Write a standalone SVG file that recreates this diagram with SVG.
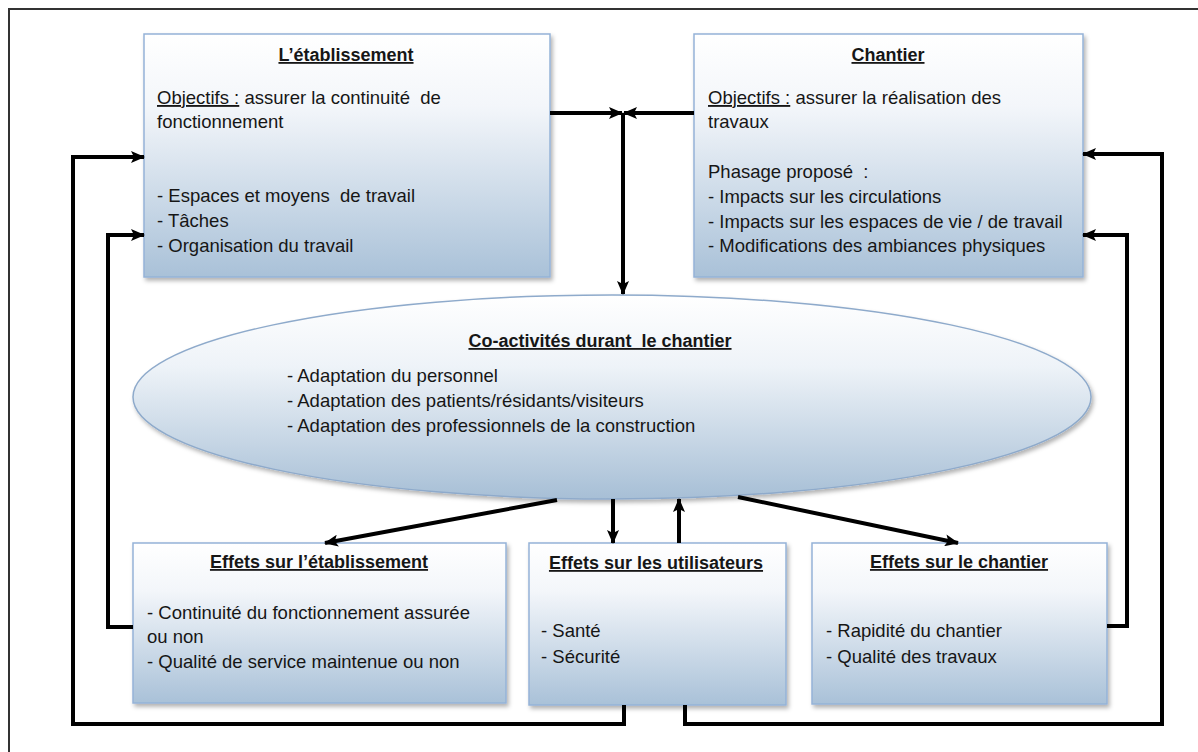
<svg xmlns="http://www.w3.org/2000/svg" width="1198" height="752" viewBox="0 0 1198 752">
<defs>
<linearGradient id="gBox" x1="0" y1="0" x2="0" y2="1">
<stop offset="0" stop-color="#ffffff"/>
<stop offset="0.3" stop-color="#f3f6fa"/>
<stop offset="1" stop-color="#a9c1d8"/>
</linearGradient>
<linearGradient id="gEll" x1="0" y1="0" x2="0" y2="1">
<stop offset="0" stop-color="#ffffff"/>
<stop offset="0.35" stop-color="#eef3f8"/>
<stop offset="1" stop-color="#a7bfd6"/>
</linearGradient>
<filter id="sh" x="-5%" y="-5%" width="112%" height="115%">
<feDropShadow dx="2" dy="3" stdDeviation="2" flood-color="#000" flood-opacity="0.3"/>
</filter>
<marker id="ah" viewBox="0 0 14 12" refX="13" refY="6" markerWidth="14" markerHeight="12" markerUnits="userSpaceOnUse" orient="auto">
<path d="M0,0 L14,6 L0,12 L3,6 Z" fill="#000"/>
</marker>
</defs>
<style>
.box{fill:url(#gBox);stroke:#95b3d7;stroke-width:1.5;filter:url(#sh)}
.ell{fill:url(#gEll);stroke:#8eaacb;stroke-width:1.5;filter:url(#sh)}
text{font-family:"Liberation Sans",Arial,sans-serif;font-size:18.5px;fill:#161616;white-space:pre}
.t{font-weight:bold;font-size:18px;text-anchor:middle;text-decoration:underline}
.u{text-decoration:underline}
.c{fill:none;stroke:#000;stroke-width:4;stroke-linejoin:miter}
.a{marker-end:url(#ah)}
.frame{fill:none;stroke:#333;stroke-width:2}
</style>
<rect x="0" y="0" width="1198" height="752" fill="#ffffff"/>
<rect class="frame" x="9" y="9" width="1200" height="760"/>

<g id="etablissement">
<rect class="box" x="144" y="34" width="406" height="243"/>
<text class="t" x="346" y="61">L’établissement</text>
<text x="157" y="104"><tspan class="u">Objectifs :</tspan> assurer la continuité  de</text>
<text x="157" y="128">fonctionnement</text>
<text x="157" y="202">- Espaces et moyens  de travail</text>
<text x="157" y="227">- Tâches</text>
<text x="157" y="252">- Organisation du travail</text>
</g>

<g id="chantier">
<rect class="box" x="694" y="34" width="389" height="243"/>
<text class="t" x="888" y="61">Chantier</text>
<text x="708" y="104"><tspan class="u">Objectifs :</tspan> assurer la réalisation des</text>
<text x="708" y="128">travaux</text>
<text x="708" y="178">Phasage proposé  :</text>
<text x="708" y="203">- Impacts sur les circulations</text>
<text x="708" y="228">- Impacts sur les espaces de vie / de travail</text>
<text x="708" y="252">- Modifications des ambiances physiques</text>
</g>

<g id="coactivites">
<ellipse class="ell" cx="612" cy="397" rx="479" ry="102"/>
<text class="t" x="600" y="347">Co-activités durant  le chantier</text>
<text x="287" y="382">- Adaptation du personnel</text>
<text x="287" y="407">- Adaptation des patients/résidants/visiteurs</text>
<text x="287" y="432">- Adaptation des professionnels de la construction</text>
</g>

<g id="effets-etablissement">
<rect class="box" x="133" y="543" width="373" height="160"/>
<text class="t" x="319" y="568">Effets sur l’établissement</text>
<text x="147" y="619">- Continuité du fonctionnement assurée</text>
<text x="147" y="643">ou non</text>
<text x="147" y="668">- Qualité de service maintenue ou non</text>
</g>

<g id="effets-utilisateurs">
<rect class="box" x="529" y="543" width="257" height="162"/>
<text class="t" x="656" y="569">Effets sur les utilisateurs</text>
<text x="541" y="637">- Santé</text>
<text x="541" y="663">- Sécurité</text>
</g>

<g id="effets-chantier">
<rect class="box" x="812" y="543" width="295" height="161"/>
<text class="t" x="959" y="568">Effets sur le chantier</text>
<text x="826" y="637">- Rapidité du chantier</text>
<text x="826" y="663">- Qualité des travaux</text>
</g>

<g id="connectors">
<line class="c a" x1="550" y1="113" x2="622" y2="113"/>
<line class="c a" x1="694" y1="113" x2="624" y2="113"/>
<line class="c a" x1="623" y1="113" x2="623" y2="294"/>
<line class="c a" x1="557" y1="500" x2="325" y2="543"/>
<line class="c a" x1="613" y1="499" x2="613" y2="543"/>
<line class="c a" x1="679" y1="543" x2="679" y2="499"/>
<line class="c a" x1="738" y1="497" x2="958" y2="543"/>
<polyline class="c a" points="624,705 624,724 73,724 73,157 144,157"/>
<polyline class="c a" points="133,627 108,627 108,235 144,235"/>
<polyline class="c a" points="685,705 685,724 1162,724 1162,154 1083,154"/>
<polyline class="c a" points="1107,626 1127,626 1127,235 1083,235"/>
</g>
</svg>
